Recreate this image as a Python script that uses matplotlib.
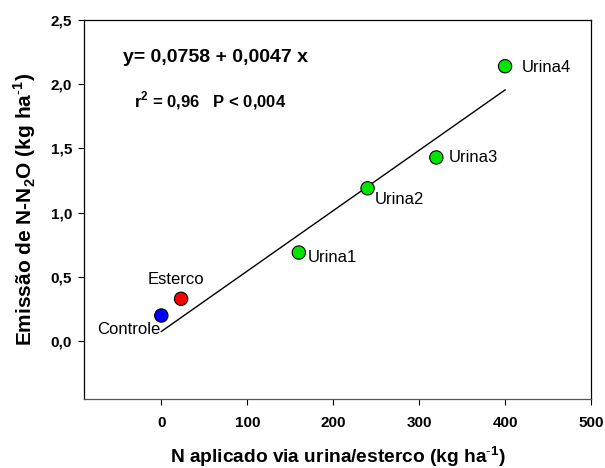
import matplotlib
matplotlib.use('Agg')
import matplotlib.pyplot as plt
import numpy as np

plt.rcParams['font.family'] = ['Liberation Sans', 'DejaVu Sans']
plt.rcParams['mathtext.fontset'] = 'custom'
plt.rcParams['mathtext.rm'] = 'Liberation Sans'
plt.rcParams['mathtext.bf'] = 'Liberation Sans:bold'

# tratamentos
nomes = ['Controle', 'Esterco', 'Urina1', 'Urina2', 'Urina3', 'Urina4']
n_aplicado = [0, 23, 160, 240, 320, 400]
emissao = [0.20, 0.33, 0.69, 1.19, 1.43, 2.14]
cores = ['#0000ff', '#ff0000', '#00e600', '#00e600', '#00e600', '#00e600']

# regressao
a, b = 0.0758, 0.0047
x_reta = [0, 400]

xticks = [0, 100, 200, 300, 400, 500]
yticks = [0.0, 0.5, 1.0, 1.5, 2.0, 2.5]

fig = plt.figure(figsize=(6.05, 4.68), dpi=100)
ax = fig.add_axes([0.1388, 0.1474, 0.8381, 0.8099])

ax.plot(x_reta, [a + b * x for x in x_reta], color='black', lw=1)
ax.scatter(n_aplicado, emissao, s=92, c=cores, edgecolors='black', linewidths=0.8, zorder=3)

# rotulos dos pontos: deslocamento em pixels
desloc = {'Controle': (-1, -14, 'right'), 'Esterco': (-5, 19, 'center'),
          'Urina1': (9, -5, 'left'), 'Urina2': (7, -11, 'left'),
          'Urina3': (12, 0, 'left'), 'Urina4': (17, -1, 'left')}
for nome, x, y in zip(nomes, n_aplicado, emissao):
    dx, dy, ha = desloc[nome]
    ax.annotate(nome, (x, y), xytext=(dx * 0.72, dy * 0.72), textcoords='offset points',
                ha=ha, va='center', fontsize=12)

ax.text(-44.6, 2.21, 'y= 0,0758 + 0,0047 x', fontsize=14, fontweight='bold', va='center')
ax.text(-31.7, 1.875, r'r$^{\mathbf{2}}$ = 0,96   P < 0,004', fontsize=12, fontweight='bold', va='center')

ax.set_xlim(-90, 500)
ax.set_ylim(-0.45, 2.5)
ax.set_xticks(xticks)
ax.set_xticklabels([str(t) for t in xticks])
ax.set_yticks(yticks)
ax.set_yticklabels([('%.1f' % t).replace('.', ',') for t in yticks])
ax.tick_params(axis='both', direction='out', length=4.5, width=0.8, labelsize=11)
ax.tick_params(axis='x', pad=8)
ax.tick_params(axis='y', pad=4)
for lab in ax.get_xticklabels() + ax.get_yticklabels():
    lab.set_fontweight('bold')
for s in ax.spines.values():
    s.set_linewidth(0.9)
ax.spines['bottom'].set_color('#555555')

ax.set_xlabel(r'N aplicado via urina/esterco (kg ha$^{\text{-}\mathbf{1}}$)', fontsize=13.8, fontweight='bold', labelpad=10)
ax.set_ylabel(r'Emissão de N-N$_{\mathbf{2}}$O (kg ha$^{\text{-}\mathbf{1}}$)', fontsize=15, fontweight='bold', labelpad=9)

fig.savefig('out.png', dpi=100)
